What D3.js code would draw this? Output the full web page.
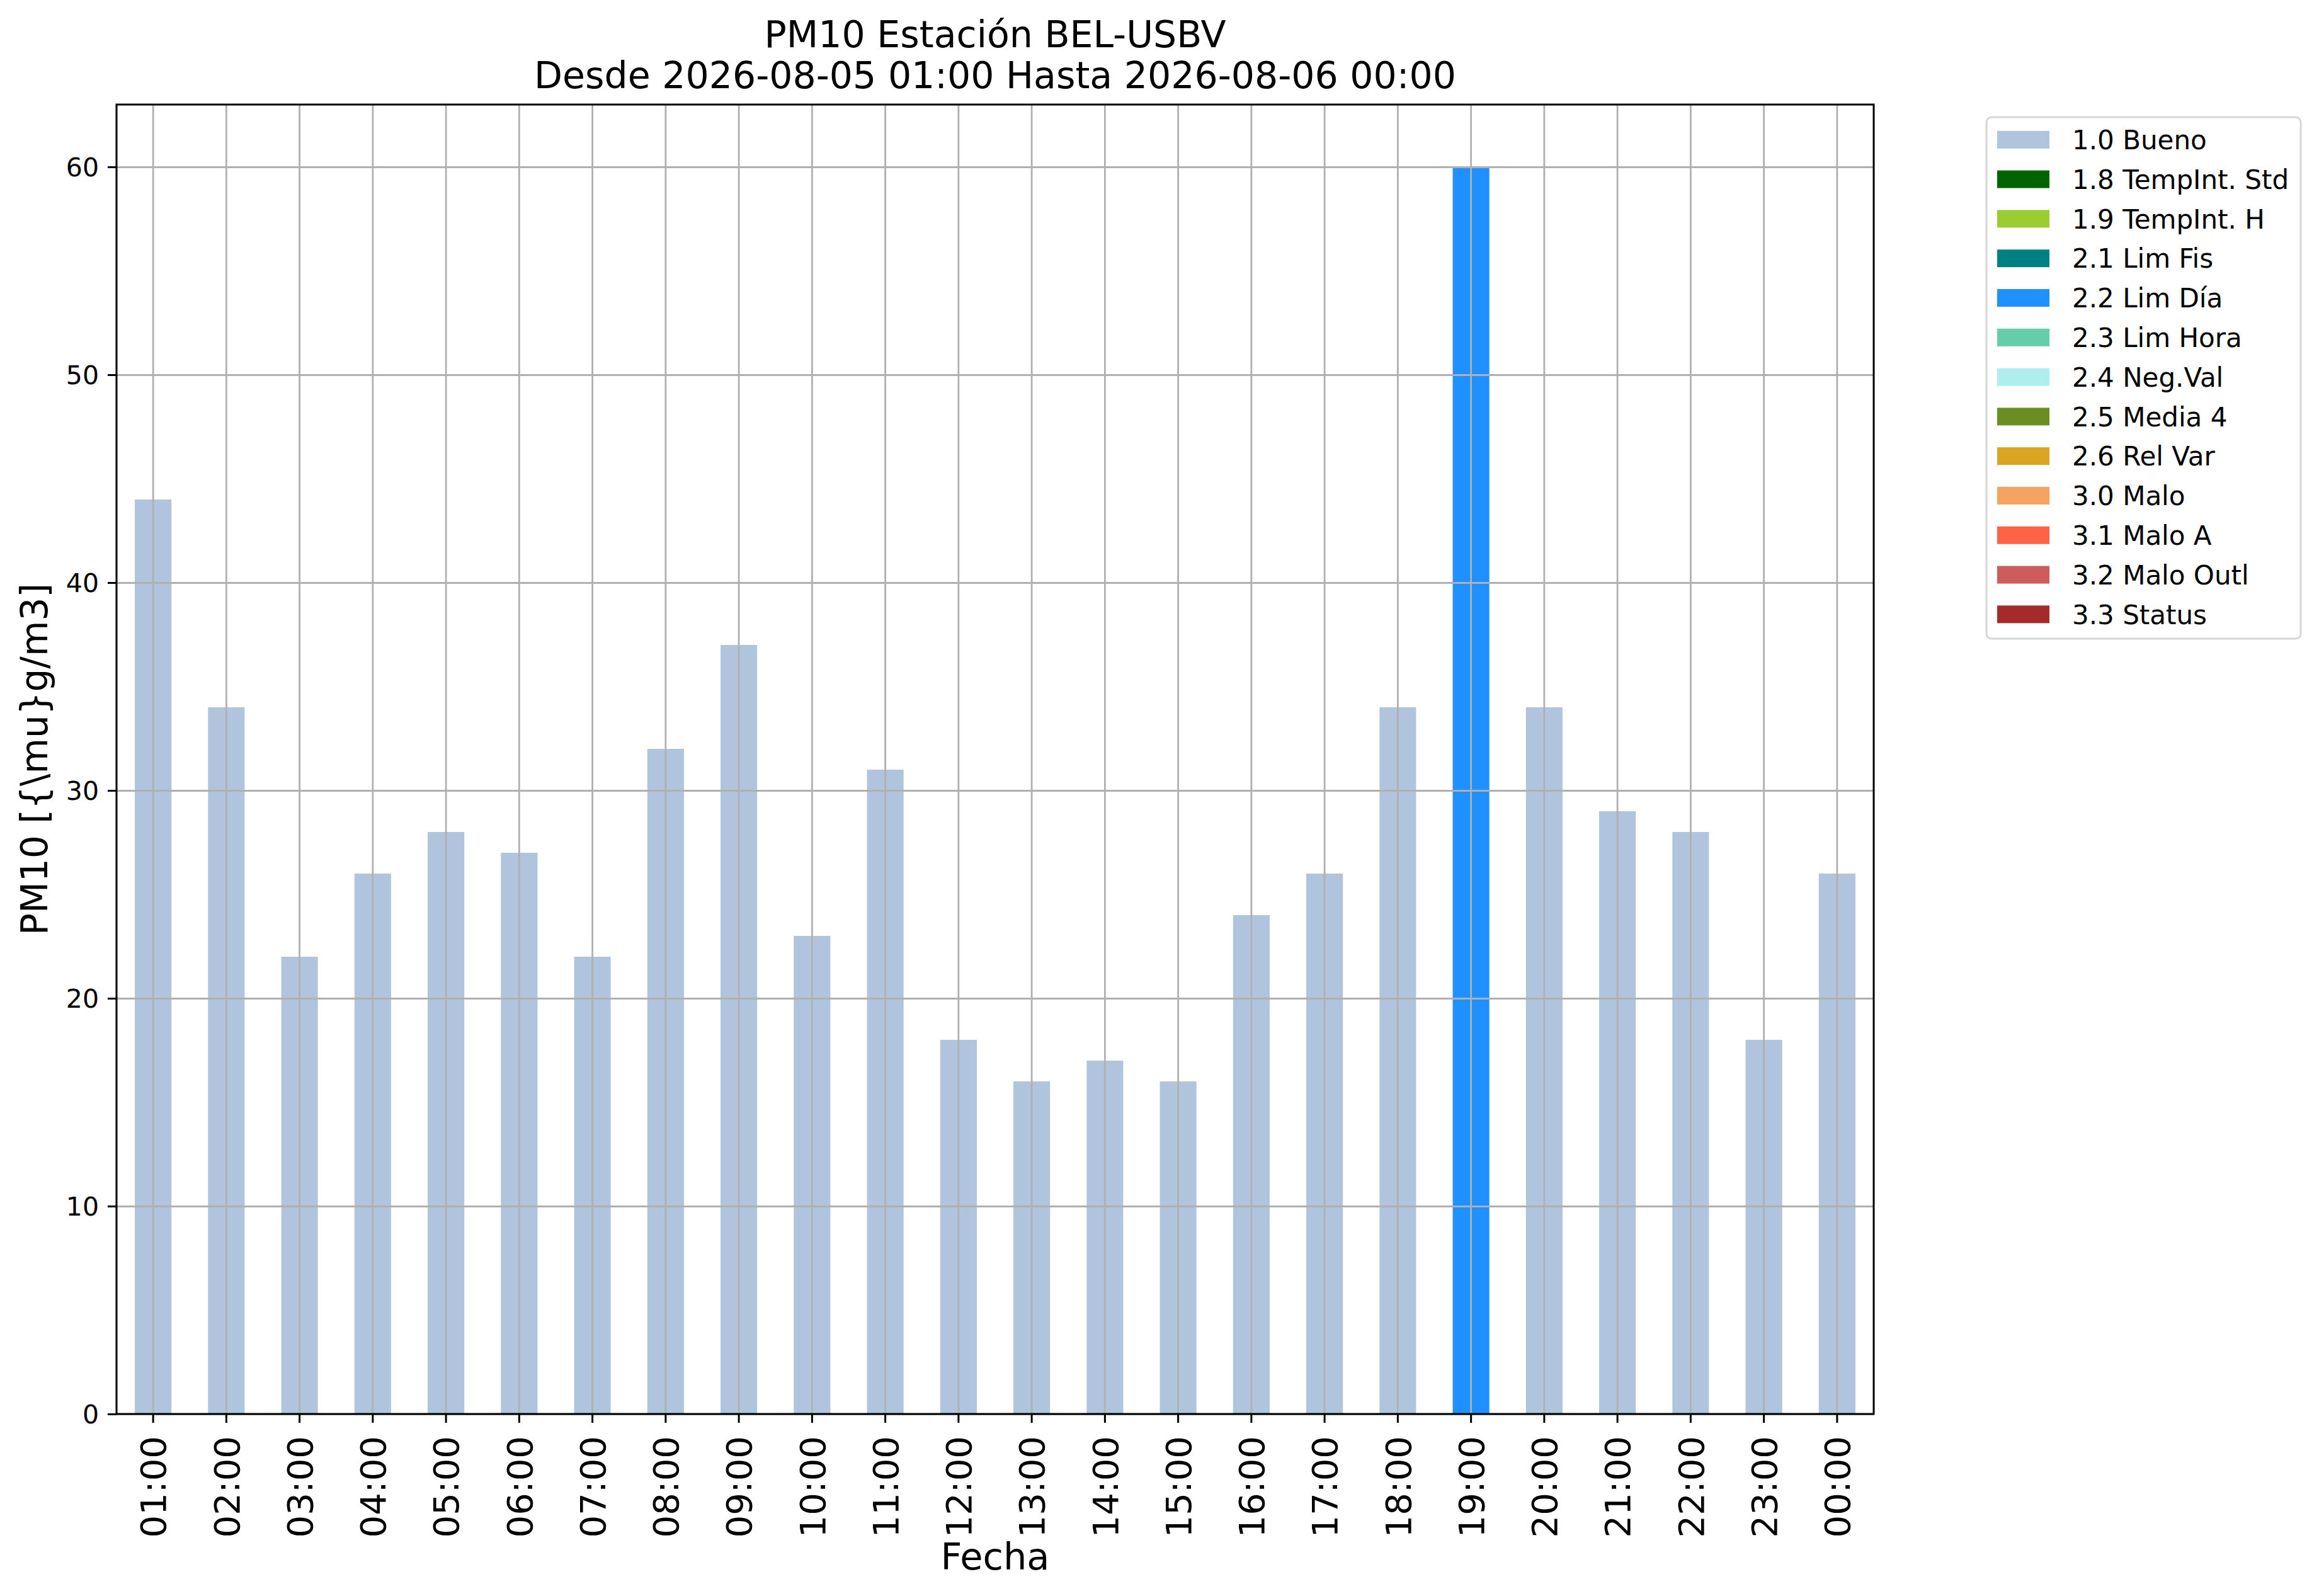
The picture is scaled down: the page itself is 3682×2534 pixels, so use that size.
<!DOCTYPE html>
<html>
<head>
<meta charset="utf-8">
<script src="https://cdn.jsdelivr.net/npm/d3@7"></script>
<style>
  html, body { margin: 0; padding: 0; background: #ffffff; }
  svg { display: block; }
  text { font-family: "DejaVu Sans", sans-serif; fill: #000; }
</style>
</head>
<body>
<div id="chart"></div>
<script>
// ---------- data ----------
const hours = ["01:00","02:00","03:00","04:00","05:00","06:00","07:00","08:00","09:00","10:00","11:00","12:00",
               "13:00","14:00","15:00","16:00","17:00","18:00","19:00","20:00","21:00","22:00","23:00","00:00"];
const values = [44, 34, 22, 26, 28, 27, 22, 32, 37, 23, 31, 18, 16, 17, 16, 24, 26, 34, 60, 34, 29, 28, 18, 26];
// quality flag of each hour
const flags = ["1.0 Bueno","1.0 Bueno","1.0 Bueno","1.0 Bueno","1.0 Bueno","1.0 Bueno","1.0 Bueno","1.0 Bueno",
               "1.0 Bueno","1.0 Bueno","1.0 Bueno","1.0 Bueno","1.0 Bueno","1.0 Bueno","1.0 Bueno","1.0 Bueno",
               "1.0 Bueno","1.0 Bueno","2.2 Lim Día","1.0 Bueno","1.0 Bueno","1.0 Bueno","1.0 Bueno","1.0 Bueno"];
const seriesNames = ["1.0 Bueno","1.8 TempInt. Std","1.9 TempInt. H","2.1 Lim Fis","2.2 Lim Día","2.3 Lim Hora",
                     "2.4 Neg.Val","2.5 Media 4","2.6 Rel Var","3.0 Malo","3.1 Malo A","3.2 Malo Outl","3.3 Status"];
const seriesColors = ["#b0c4de","#006400","#9acd32","#008080","#1e90ff","#66cdaa",
                      "#afeeee","#6b8e23","#daa520","#f4a460","#ff6347","#cd5c5c","#a52a2a"];
const yTicks = [0, 10, 20, 30, 40, 50, 60];
const titleLines = ["PM10 Estación BEL-USBV", "Desde 2026-08-05 01:00 Hasta 2026-08-06 00:00"];
const xLabel = "Fecha";
const yLabel = "PM10 [{\\mu}g/m3]";

// ---------- layout ----------
const W = 3682, H = 2534;
const plot = { left: 185, right: 2975, top: 166, bottom: 2245 };

const svg = d3.select("#chart").append("svg")
  .attr("width", W).attr("height", H)
  .attr("viewBox", `0 0 ${W} ${H}`);
svg.append("rect").attr("width", W).attr("height", H).attr("fill", "#fff");

const x = d3.scaleBand().domain(hours).range([plot.left, plot.right])
  .paddingInner(0.5).paddingOuter(0.25);
const y = d3.scaleLinear().domain([0, 63]).range([plot.bottom, plot.top]);
const color = d3.scaleOrdinal().domain(seriesNames).range(seriesColors);

// table for stacking
const table = hours.map((h, i) => {
  const row = { hour: h };
  seriesNames.forEach(s => { row[s] = flags[i] === s ? values[i] : 0; });
  return row;
});
const stacked = d3.stack().keys(seriesNames)(table);

// bars
const gBars = svg.append("g");
stacked.forEach(layer => {
  gBars.selectAll(null).data(layer.filter(d => d[1] - d[0] > 0)).enter().append("rect")
    .attr("x", d => x(d.data.hour))
    .attr("width", x.bandwidth())
    .attr("y", d => y(d[1]))
    .attr("height", d => y(d[0]) - y(d[1]))
    .attr("fill", color(layer.key));
});

// grid (drawn above bars like matplotlib)
const gridColor = "#b0b0b0";
const gGrid = svg.append("g");
gGrid.append("g").attr("transform", `translate(0,${plot.bottom})`)
  .call(d3.axisBottom(x).tickSize(-(plot.bottom - plot.top)).tickFormat(""))
  .call(g => g.select(".domain").remove())
  .call(g => g.selectAll("line").attr("stroke", gridColor).attr("stroke-width", 2.8));
gGrid.append("g").attr("transform", `translate(${plot.left},0)`)
  .call(d3.axisLeft(y).tickValues(yTicks).tickSize(-(plot.right - plot.left)).tickFormat(""))
  .call(g => g.select(".domain").remove())
  .call(g => g.selectAll("line").attr("stroke", gridColor).attr("stroke-width", 2.8));

// axes
const gx = svg.append("g").attr("transform", `translate(0,${plot.bottom})`)
  .call(d3.axisBottom(x).tickSize(14).tickPadding(0));
gx.select(".domain").remove();
gx.selectAll("line").attr("stroke", "#000").attr("stroke-width", 3);
gx.selectAll("text")
  .attr("font-size", 56)
  .attr("font-family", "DejaVu Sans")
  .attr("text-anchor", "end")
  .attr("transform", "translate(0,35) rotate(-90)")
  .attr("x", 0).attr("y", 0).attr("dy", "0.36em");

const gy = svg.append("g").attr("transform", `translate(${plot.left},0)`)
  .call(d3.axisLeft(y).tickValues(yTicks).tickSize(14).tickPadding(14));
gy.select(".domain").remove();
gy.selectAll("line").attr("stroke", "#000").attr("stroke-width", 3);
gy.selectAll("text").attr("font-size", 41).attr("font-family", "DejaVu Sans").attr("dy", "0.36em");

// spines
svg.append("rect")
  .attr("x", plot.left).attr("y", plot.top)
  .attr("width", plot.right - plot.left).attr("height", plot.bottom - plot.top)
  .attr("fill", "none").attr("stroke", "#000").attr("stroke-width", 3);

// title
const cx = (plot.left + plot.right) / 2;
svg.append("text").attr("x", cx).attr("y", 75).attr("text-anchor", "middle")
  .attr("font-size", 58.5).text(titleLines[0]);
svg.append("text").attr("x", cx).attr("y", 140).attr("text-anchor", "middle")
  .attr("font-size", 58.5).text(titleLines[1]);

// axis labels
svg.append("text").attr("x", cx).attr("y", 2492).attr("text-anchor", "middle")
  .attr("font-size", 59).text(xLabel);
svg.append("text").attr("transform", `translate(75,${(plot.top + plot.bottom) / 2}) rotate(-90)`)
  .attr("text-anchor", "middle").attr("font-size", 58).text(yLabel);

// legend
const lg = svg.append("g");
const lx = 3154, ly = 186, lw = 499, rowH = 62.8, firstRow = 221.8;
lg.append("rect").attr("x", lx).attr("y", ly).attr("width", lw)
  .attr("height", 828).attr("rx", 8).attr("ry", 8)
  .attr("fill", "#fff").attr("stroke", "#d6d6d6").attr("stroke-width", 3);
seriesNames.forEach((s, i) => {
  const cy = firstRow + i * rowH;
  lg.append("rect").attr("x", 3171).attr("y", cy - 14).attr("width", 83).attr("height", 28)
    .attr("fill", color(s));
  lg.append("text").attr("x", 3290).attr("y", cy).attr("dy", "0.36em")
    .attr("font-size", 42).text(s);
});
</script>
</body>
</html>
